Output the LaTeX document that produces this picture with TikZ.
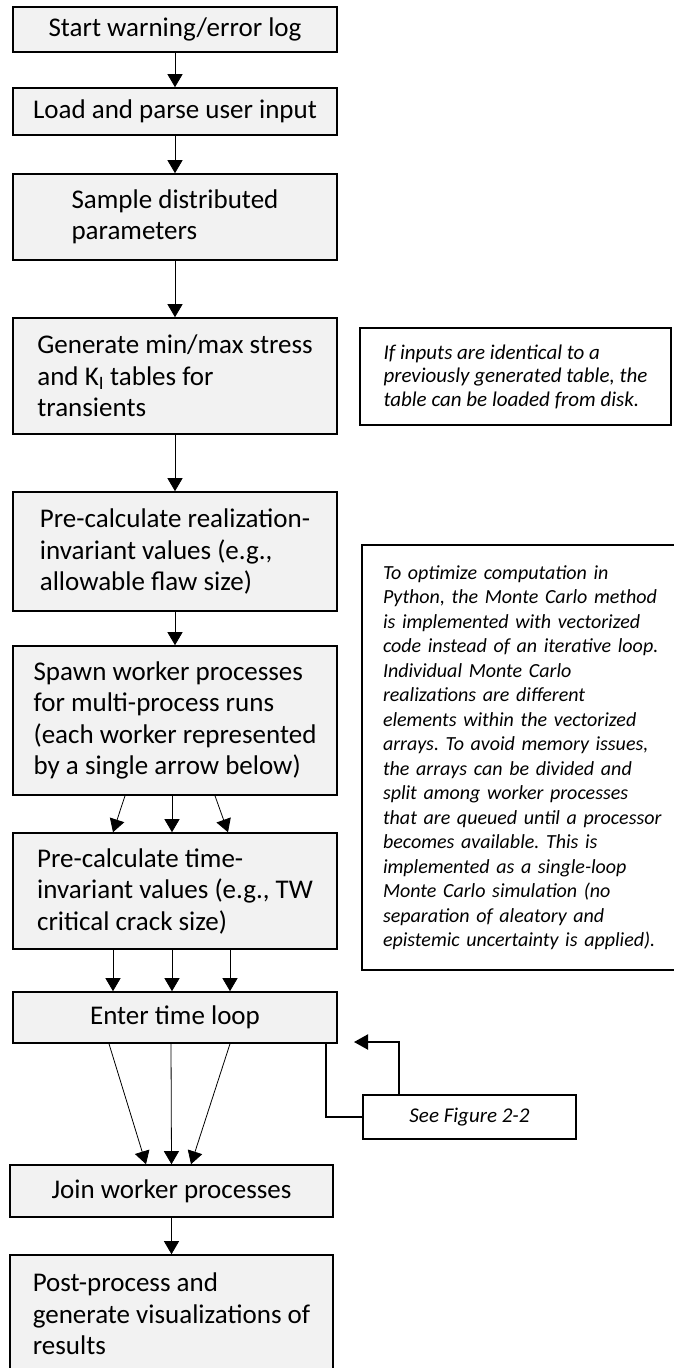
\documentclass[tikz,border=0pt]{standalone}
\usepackage{fontspec}
\setmainfont{Carlito}
\usepackage{tikz}
\usetikzlibrary{arrows.meta,positioning,calc}
\definecolor{boxgray}{RGB}{242,242,242}
\frenchspacing
\tikzset{
  procbox/.style={draw=black,line width=1.6pt,fill=boxgray,minimum width=324pt,align=left,inner sep=0pt,font=\fontsize{27}{31.5}\selectfont},
  notebox/.style={draw=black,line width=2pt,fill=white,align=left,inner sep=0pt,font=\fontsize{21}{23.5}\selectfont\itshape},
  flowarrow/.style={-{Triangle[length=13pt,width=15pt]},line width=0.8pt},
  looparrow/.style={-{Triangle[length=14pt,width=15pt]},line width=2pt},
}

\begin{document}
\begin{tikzpicture}[x=1pt,y=-1pt]
  \useasboundingbox (0,0) rectangle (673,1368);
  \node[procbox,minimum height=45pt] (startlog) at (175,29.5) {Start warning/error log};
  \node[procbox,minimum height=47pt] (loadinput) at (175,111.5) {Load and parse user input};
  \node[procbox,minimum height=86pt] (sample) at (175,217) {Sample distributed\\parameters};
  \node[procbox,minimum height=116pt] (gentables) at (175,376) {Generate min/max stress\\and K\textsubscript{I} tables for\\transients};
  \node[procbox,minimum height=119pt] (precalcreal) at (175,551.5) {Pre-calculate realization-\\invariant values (e.g.,\\allowable flaw size)};
  \node[procbox,minimum height=149pt] (spawn) at (175,720.5) {Spawn worker processes\\for multi-process runs\\(each worker represented\\by a single arrow below)};
  \node[procbox,minimum height=116pt] (precalctime) at (175,891) {Pre-calculate time-\\invariant values (e.g., TW\\critical crack size)};
  \node[procbox,minimum height=51pt] (timeloop) at (175,1017.5) {Enter time loop};
  \node[procbox,minimum width=323pt,minimum height=52pt] (join) at (171.5,1191) {Join worker processes};
  \node[procbox,minimum width=323pt,minimum height=118pt] (post) at (171.5,1314) {Post-process and\\generate visualizations of\\results};

  \node[notebox,minimum width=311pt,minimum height=97pt] (tablenote) at (515.5,376.5) {If inputs are identical to a\\previously generated table, the\\table can be loaded from disk.};
  \node[notebox,anchor=north west,minimum height=425pt,text width=300pt,inner xsep=21pt,font=\fontsize{20}{24.5}\selectfont\itshape] (mcnote) at (361,544) {To optimize computation in\\Python, the Monte Carlo method\\is implemented with vectorized\\code instead of an iterative loop.\\Individual Monte Carlo\\realizations are different\\elements within the vectorized\\arrays. To avoid memory issues,\\the arrays can be divided and\\split among worker processes\\that are queued until a processor\\becomes available. This is\\implemented as a single-loop\\Monte Carlo simulation (no\\separation of aleatory and\\epistemic uncertainty is applied).};
  \node[notebox,minimum width=213pt,minimum height=44pt,align=center] (seefig) at (469.5,1117) {See Figure 2-2};

  \draw[flowarrow] (startlog) -- (loadinput);
  \draw[flowarrow] (loadinput) -- (sample);
  \draw[flowarrow] (sample) -- (gentables);
  \draw[flowarrow] (gentables) -- (precalcreal);
  \draw[flowarrow] (precalcreal) -- (spawn);
  \foreach \a/\b in {-50/-62,-3/-3,40/53}
    \draw[flowarrow] ([xshift=\a pt]spawn.south) -- ([xshift=\b pt]precalctime.north);
  \foreach \a in {-62,-3,55}
    \draw[flowarrow] ([xshift=\a pt]precalctime.south) -- ([xshift=\a pt]timeloop.north);
  \foreach \a/\b in {-66/-25.5,-4/0,55/19.5}
    \draw[flowarrow] ([xshift=\a pt]timeloop.south) -- ([xshift=\b pt]join.north);
  \draw[flowarrow] (join) -- (post);

  \coordinate (loopback) at (354,1042);
  \draw[line width=2pt] ([xshift=-12pt]timeloop.south east) |- (seefig.west);
  \draw[looparrow] ([xshift=-70.5pt]seefig.north) |- (loopback);
\end{tikzpicture}
\end{document}
